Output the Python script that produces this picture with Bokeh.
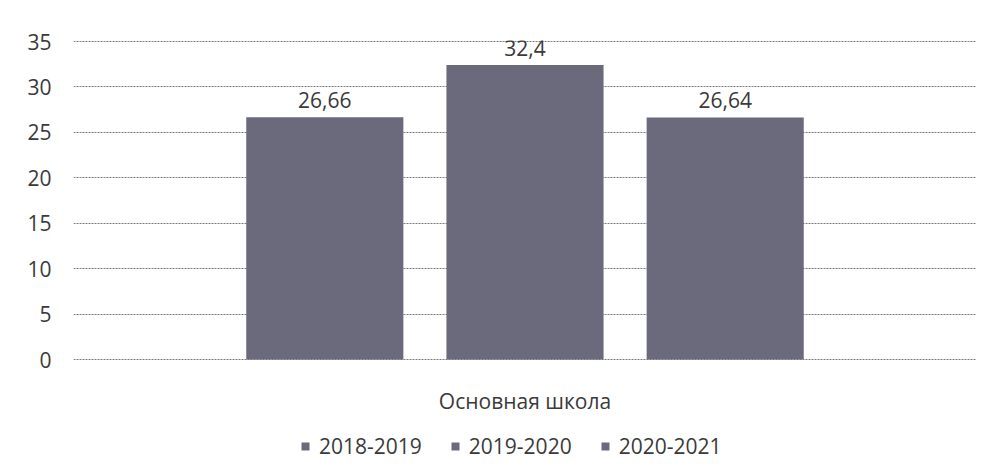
from bokeh.plotting import figure
from bokeh.models import FactorRange, ColumnDataSource, Legend, LegendItem, Range1d, FixedTicker
from bokeh.transform import dodge
from bokeh.core.properties import value
from bokeh.embed import file_html
from bokeh.resources import INLINE

category = ["Основная школа"]
series = ["2018-2019", "2019-2020", "2020-2021"]
values = [26.66, 32.4, 26.64]
value_labels = ["26,66", "32,4", "26,64"]
y_ticks = [0, 5, 10, 15, 20, 25, 30, 35]

FONT = "Open Sans"
BAR_COLOR = "#6b6a7c"
TEXT_COLOR = "#3a3a3a"

# frame: left 73, top 40, right 976, bottom 462 ; value 0 at y=359, 35 at y=41
px_per_unit = (359 - 41) / 35.0
y_end = 35 + (41 - 40) / px_per_unit
y_start = -(462 - 359) / px_per_unit

p = figure(
    x_range=FactorRange(*category),
    y_range=Range1d(y_start, y_end),
    width=986, height=467,
    output_backend="svg", toolbar_location=None,
    min_border_left=73, min_border_right=10, min_border_top=40, min_border_bottom=5,
)

offsets = [-0.2217, 0.0, 0.2217]
bar_w = 0.174
items = []
for s, v, lab, off in zip(series, values, value_labels, offsets):
    src = ColumnDataSource(dict(x=category, top=[v], lab=[lab]))
    r = p.vbar(x=dodge("x", off, range=p.x_range), top="top", bottom=0, width=bar_w, source=src,
               fill_color=BAR_COLOR, line_color=None)
    p.text(x=dodge("x", off, range=p.x_range), y="top", text="lab", source=src,
           text_align="center", text_baseline="alphabetic", y_offset=-17,
           text_font=value(FONT), text_font_size="21px", text_color=TEXT_COLOR)
    items.append(LegendItem(label=s, renderers=[r]))

# category label (acts as the x axis label)
cat_src = ColumnDataSource(dict(x=category, y=[0], t=category))
p.text(x="x", y="y", text="t", source=cat_src, text_align="center",
       text_baseline="alphabetic", y_offset=41,
       text_font=value(FONT), text_font_size="21px", text_color=TEXT_COLOR)

legend = Legend(items=items, orientation="horizontal", location=(227, 2),
                label_text_font=FONT, label_text_font_size="21px", label_text_color=TEXT_COLOR,
                glyph_width=10, glyph_height=10, label_standoff=9, spacing=28,
                padding=0, margin=0, border_line_color=None, background_fill_alpha=0)
p.add_layout(legend, "center")

p.yaxis.ticker = FixedTicker(ticks=y_ticks)
p.yaxis.axis_line_color = None
p.yaxis.major_tick_line_color = None
p.yaxis.minor_tick_line_color = None
p.yaxis.major_tick_out = 0
p.yaxis.major_tick_in = 0
p.yaxis.major_label_standoff = 22
p.yaxis.major_label_text_font = FONT
p.yaxis.major_label_text_font_size = "21px"
p.yaxis.major_label_text_color = TEXT_COLOR

p.xaxis.visible = False

p.xgrid.grid_line_color = None
p.ygrid.grid_line_color = "#7a7a7a"
p.ygrid.grid_line_width = 1
p.ygrid.grid_line_dash = "2 1"
p.outline_line_color = None

open("out.html", "w").write(file_html(p, INLINE))
